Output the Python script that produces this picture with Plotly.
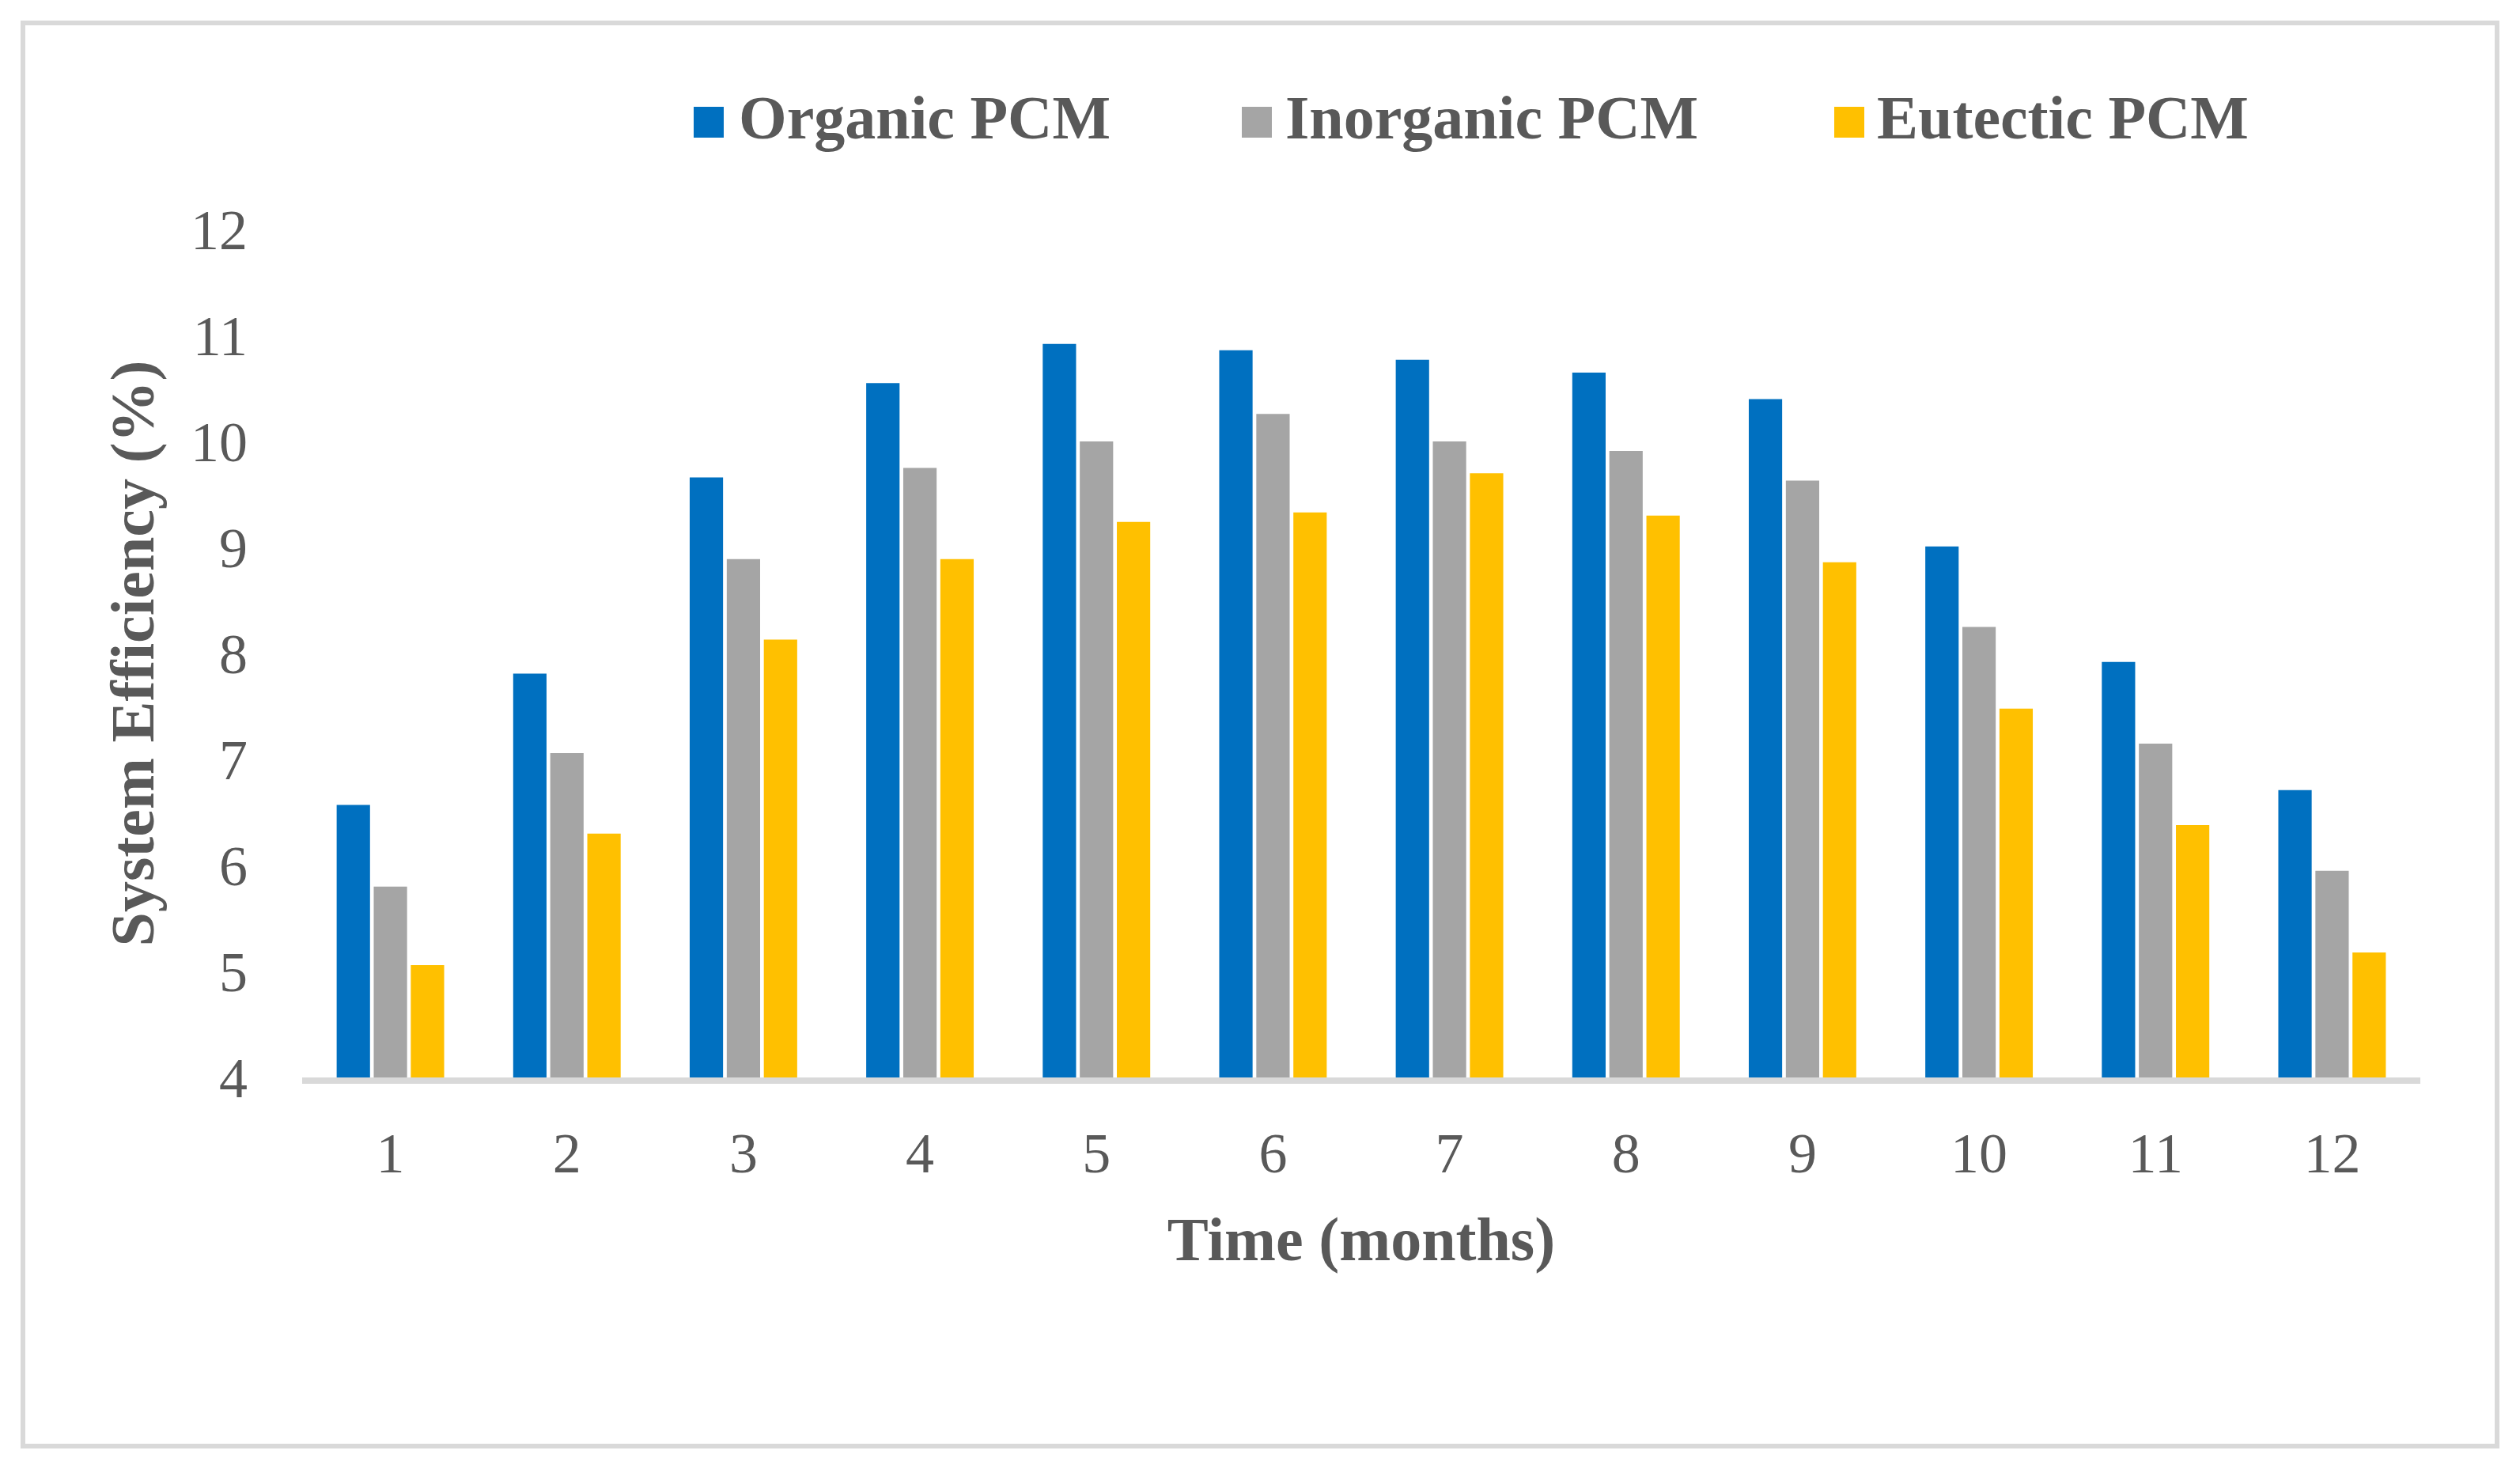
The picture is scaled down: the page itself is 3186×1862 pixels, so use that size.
import plotly.graph_objects as go

months = ["1", "2", "3", "4", "5", "6", "7", "8", "9", "10", "11", "12"]
organic = [6.57, 7.81, 9.66, 10.55, 10.92, 10.86, 10.77, 10.65, 10.40, 9.01, 7.92, 6.71]
inorganic = [5.80, 7.06, 8.89, 9.75, 10.00, 10.26, 10.00, 9.91, 9.63, 8.25, 7.15, 5.95]
eutectic = [5.06, 6.30, 8.13, 8.89, 9.24, 9.33, 9.70, 9.30, 8.86, 7.48, 6.38, 5.18]
series_names = ["Organic PCM", "Inorganic PCM", "Eutectic PCM"]
colors = ["#0070C0", "#A5A5A5", "#FFC000"]
yticks = [4, 5, 6, 7, 8, 9, 10, 11, 12]

# page offset (body margin) compensation
OFF = 8
W, H = 3186 - OFF, 1862 - OFF
ML, MT = 382 - OFF, 290 - OFF
MR = W - (3060 - OFF)
MB = H - (1362 - OFF)
PW, PH = W - ML - MR, H - MT - MB

TXT = "#595959"
FONT = "Liberation Serif"

def px(x):  # page pixel x -> paper
    return (x - OFF - ML) / PW

def py(y):  # page pixel y -> paper
    return (H - MB - (y - OFF)) / PH

fig = go.Figure()
for name, vals, col in zip(series_names, [organic, inorganic, eutectic], colors):
    fig.add_trace(go.Bar(x=months, y=vals, name=name,
                         marker=dict(color=col, line=dict(width=0)), showlegend=False))

# legend keys (squares) and labels
sq_left = [877, 1570, 2319]
txt_left = [935, 1626, 2374]
shapes = []
annotations = []
for name, col, sl, tl in zip(series_names, colors, sq_left, txt_left):
    shapes.append(dict(type="rect", xref="paper", yref="paper",
                       x0=px(sl), x1=px(sl + 38), y0=py(174), y1=py(135),
                       line=dict(width=0), fillcolor=col))
    annotations.append(dict(text=f"<b>{name}</b>", xref="paper", yref="paper",
                            x=px(tl - 3), y=py(148), xanchor="left", yanchor="middle",
                            showarrow=False,
                            font=dict(family=FONT, size=78, color=TXT)))

shapes.append(dict(type="rect", xref="paper", yref="paper",
                   x0=px(29), x1=px(3157), y0=py(1828), y1=py(29),
                   line=dict(color="#D9D9D9", width=6), fillcolor="rgba(0,0,0,0)", layer="below"))

fig.update_layout(
    width=W, height=H,
    margin=dict(l=ML, r=MR, t=MT, b=MB),
    paper_bgcolor="white", plot_bgcolor="white",
    barmode="group", bargap=0.37, bargroupgap=0.1,
    font=dict(family=FONT, color=TXT),
    showlegend=False,
    xaxis=dict(
        showline=True, linecolor="#D9D9D9", linewidth=8,
        showgrid=False, zeroline=False, ticks="",
        tickfont=dict(family=FONT, size=72, color=TXT),
        ticklabelstandoff=26,
        title=dict(text="Time (months)", standoff=44,
                   font=dict(family=FONT, size=78, color=TXT, weight="bold")),
    ),
    yaxis=dict(
        range=[4, 12], tickvals=yticks, ticktext=[str(v) for v in yticks],
        showline=False, showgrid=False, zeroline=False, ticks="",
        tickfont=dict(family=FONT, size=72, color=TXT),
        ticklabelstandoff=68,
        title=dict(text="System Efficiency (%)", standoff=20,
                   font=dict(family=FONT, size=78, color=TXT, weight="bold")),
    ),
    shapes=shapes,
    annotations=annotations,
)

fig.write_html("out.html")
